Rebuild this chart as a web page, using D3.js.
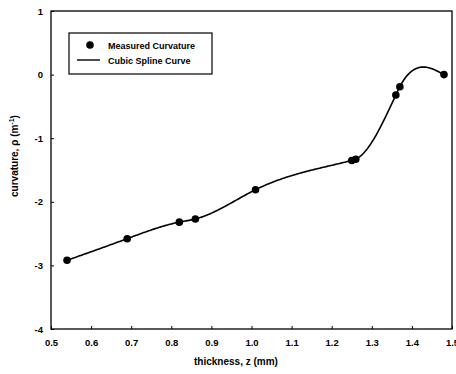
<html>

<head>
    <meta charset="utf-8">
    <script src="https://d3js.org/d3.v7.min.js"></script>
    <style>
        body { margin: 0; background: #fff; }
        text { font-family: "Liberation Sans", Arial, sans-serif; font-weight: bold; fill: #000; }
    </style>
</head>

<body></body>
<script>

    // measured points
    var thickness = [0.54, 0.69, 0.82, 0.86, 1.01, 1.25, 1.26, 1.36, 1.37, 1.48];
    var curvature = [-2.92, -2.58, -2.32, -2.27, -1.81, -1.35, -1.33, -0.32, -0.19, 0.00];

    var xTicks = [0.5, 0.6, 0.7, 0.8, 0.9, 1.0, 1.1, 1.2, 1.3, 1.4, 1.5];
    var xTickLabels = ["0.5", "0.6", "0.7", "0.8", "0.9", "1.0", "1.1", "1.2", "1.3", "1.4", "1.5"];
    var yTicks = [1, 0, -1, -2, -3, -4];
    var yTickLabels = ["1", "0", "-1", "-2", "-3", "-4"];

    var margin = { top: 11, right: 4, bottom: 45, left: 51 };

    var svg = d3.select("body")
        .append("svg")
        .attr("width", 456)
        .attr("height", 374)
        .append("g")
        .attr("transform", "translate(" + margin.left + "," + margin.top + ")");

    var x = d3.scaleLinear().domain([0.5, 1.5]).range([0, 401]);
    var y = d3.scaleLinear().domain([-4, 1]).range([318, 0]);

    // frame
    svg.append("rect")
        .attr("x", 0).attr("y", 0)
        .attr("width", 401).attr("height", 318)
        .attr("fill", "none")
        .attr("stroke", "#000")
        .attr("stroke-width", 1.3);

    // x axis (ticks pointing inward)
    var xAxis = svg.append("g")
        .attr("transform", "translate(0,318)")
        .call(d3.axisBottom(x).tickValues(xTicks).tickSize(-3).tickPadding(10)
            .tickFormat(function (d, i) { return xTickLabels[i]; }));
    xAxis.select(".domain").remove();
    xAxis.selectAll("text").style("font-size", "9.5px");

    svg.append("text")
        .attr("x", 185)
        .attr("y", 354)
        .style("text-anchor", "middle")
        .style("font-size", "10px")
        .text("thickness, z (mm)");

    // y axis
    var yAxis = svg.append("g")
        .call(d3.axisLeft(y).tickValues(yTicks).tickSize(-3).tickPadding(8)
            .tickFormat(function (d, i) { return yTickLabels[i]; }));
    yAxis.select(".domain").remove();
    yAxis.selectAll("text").style("font-size", "9.5px");

    svg.append("text")
        .attr("transform", "translate(-33,145) rotate(-90)")
        .style("text-anchor", "middle")
        .style("font-size", "10px")
        .html("curvature, \u03C1 (m<tspan dy='-4' font-size='7px'>-1</tspan><tspan dy='4'>)</tspan>");

    // natural cubic spline through the measured points
    function naturalSpline(xs, ys) {
        var n = xs.length, h = [], a = [], l = [1], mu = [0], z = [0], c = [], b = [], d = [];
        for (var i = 0; i < n - 1; i++) h[i] = xs[i + 1] - xs[i];
        for (var i = 1; i < n - 1; i++)
            a[i] = 3 / h[i] * (ys[i + 1] - ys[i]) - 3 / h[i - 1] * (ys[i] - ys[i - 1]);
        for (var i = 1; i < n - 1; i++) {
            l[i] = 2 * (xs[i + 1] - xs[i - 1]) - h[i - 1] * mu[i - 1];
            mu[i] = h[i] / l[i];
            z[i] = (a[i] - h[i - 1] * z[i - 1]) / l[i];
        }
        c[n - 1] = 0;
        for (var j = n - 2; j >= 0; j--) {
            c[j] = z[j] - mu[j] * c[j + 1];
            b[j] = (ys[j + 1] - ys[j]) / h[j] - h[j] * (c[j + 1] + 2 * c[j]) / 3;
            d[j] = (c[j + 1] - c[j]) / (3 * h[j]);
        }
        return function (t) {
            var k = 0;
            while (k < n - 2 && t > xs[k + 1]) k++;
            var dx = t - xs[k];
            return ys[k] + b[k] * dx + c[k] * dx * dx + d[k] * dx * dx * dx;
        };
    }

    var spline = naturalSpline(thickness, curvature);
    var curve = d3.range(0, 301).map(function (i) {
        var t = thickness[0] + (thickness[thickness.length - 1] - thickness[0]) * i / 300;
        return [t, spline(t)];
    });

    svg.append("path")
        .datum(curve)
        .attr("fill", "none")
        .attr("stroke", "#000")
        .attr("stroke-width", 1.6)
        .attr("d", d3.line().x(function (d) { return x(d[0]); }).y(function (d) { return y(d[1]); }));

    svg.append("g")
        .selectAll("circle")
        .data(thickness)
        .enter()
        .append("circle")
        .attr("cx", function (d) { return x(d); })
        .attr("cy", function (d, i) { return y(curvature[i]); })
        .attr("r", 3.8)
        .attr("fill", "#000");

    // legend
    var legend = svg.append("g").attr("transform", "translate(18,22)");
    legend.append("rect")
        .attr("width", 143).attr("height", 41)
        .attr("fill", "#fff")
        .attr("stroke", "#000")
        .attr("stroke-width", 1.2);
    legend.append("circle").attr("cx", 21).attr("cy", 12).attr("r", 3.8).attr("fill", "#000");
    legend.append("line").attr("x1", 8).attr("x2", 31).attr("y1", 27).attr("y2", 27)
        .attr("stroke", "#000").attr("stroke-width", 1.4);
    legend.append("text").attr("x", 39).attr("y", 15.5).style("font-size", "9px").text("Measured Curvature");
    legend.append("text").attr("x", 39).attr("y", 30.5).style("font-size", "9px").text("Cubic Spline Curve");

</script>

</html>
